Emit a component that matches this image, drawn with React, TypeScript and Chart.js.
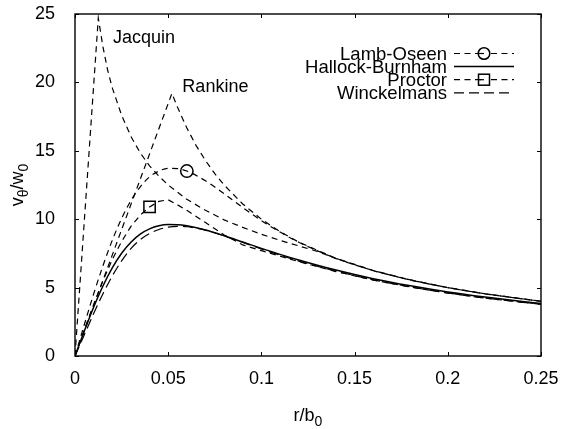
import React, { useEffect, useRef } from 'react';
import { Chart, registerables } from 'chart.js';

Chart.register(...registerables);

const FONT = "'Liberation Sans', Arial, Helvetica, sans-serif";

// ---- axis ticks ----
const xTicks = [0, 0.05, 0.1, 0.15, 0.2, 0.25];
const yTicks = [0, 5, 10, 15, 20, 25];

// ---- series (r/b0, v_theta/w0) ----
const rGrid = [0, 0.005, 0.01, 0.015, 0.02, 0.025, 0.03, 0.035, 0.04, 0.045, 0.05, 0.055, 0.06, 0.07, 0.08, 0.09, 0.1, 0.11, 0.12, 0.14, 0.16, 0.18, 0.2, 0.22, 0.25];
const lambOseen = [0, 2.3, 4.53, 6.6, 8.46, 10.05, 11.36, 12.37, 13.09, 13.52, 13.72, 13.7, 13.52, 12.81, 11.86, 10.85, 9.9, 9.06, 8.32, 7.14, 6.25, 5.56, 5.0, 4.55, 4.0];
const hallockBurnham = [0, 1.83, 3.57, 5.12, 6.44, 7.51, 8.32, 8.91, 9.29, 9.52, 9.61, 9.6, 9.52, 9.21, 8.79, 8.33, 7.87, 7.43, 7.02, 6.28, 5.65, 5.13, 4.68, 4.31, 3.83];
const winckelmans = [0, 1.55, 3.1, 4.55, 5.85, 6.95, 7.85, 8.5, 8.95, 9.25, 9.42, 9.48, 9.45, 9.2, 8.78, 8.3, 7.82, 7.37, 6.94, 6.2, 5.57, 5.05, 4.61, 4.24, 3.78];

const proctorR = [0, 0.005, 0.01, 0.015, 0.02, 0.025, 0.03, 0.035, 0.04, 0.045, 0.05, 0.055, 0.06, 0.065, 0.07, 0.08, 0.09, 0.1, 0.11, 0.12, 0.14, 0.16, 0.18, 0.2, 0.22, 0.25];
const proctor = [0, 1.92, 3.77, 5.5, 7.05, 8.37, 9.47, 10.3, 10.9, 11.3, 11.42, 11.05, 10.65, 10.2, 9.75, 8.85, 8.12, 7.7, 7.3, 6.9, 6.17, 5.55, 5.04, 4.6, 4.23, 3.78];

const jacquinR = [0, 0.0125, 0.015, 0.0175, 0.02, 0.025, 0.03, 0.035, 0.04, 0.045, 0.05, 0.06, 0.07, 0.08, 0.09, 0.1, 0.11, 0.12, 0.13, 0.14, 0.16, 0.18, 0.2, 0.22, 0.25];
const jacquin = [0, 24.7, 22.6, 20.9, 19.6, 17.6, 16.05, 14.85, 13.9, 13.15, 12.5, 11.45, 10.65, 9.95, 9.4, 8.9, 8.45, 8.05, 7.65, 7.12, 6.23, 5.54, 4.99, 4.54, 3.99];

const rankineR = [0, 0.052, 0.055, 0.06, 0.065, 0.07, 0.075, 0.08, 0.09, 0.1, 0.11, 0.12, 0.14, 0.16, 0.18, 0.2, 0.22, 0.25];
const rankine = [0, 19.2, 18.18, 16.67, 15.38, 14.29, 13.33, 12.5, 11.11, 10.0, 9.09, 8.33, 7.14, 6.25, 5.56, 5.0, 4.55, 4.0];

const lambMarkerR = 0.06;
const proctorMarkerR = 0.04;

const legendNames = ['Lamb-Oseen', 'Hallock-Burnham', 'Proctor', 'Winckelmans'];
const curveLabels = [
  { text: 'Jacquin', r: 0.0204, v: 22.87 },
  { text: 'Rankine', r: 0.0576, v: 19.33 },
];

const SHORT = [6, 4.5];
const LONG = [10, 5];

const pts = (xs: number[], ys: number[]) => xs.map((x, i) => ({ x, y: ys[i] }));

function drawRich(ctx: CanvasRenderingContext2D, parts: { t: string; s: number; dy: number }[], cx: number, cy: number, rotate: boolean) {
  ctx.save();
  ctx.translate(cx, cy);
  if (rotate) ctx.rotate(-Math.PI / 2);
  let total = 0;
  const widths = parts.map((p) => {
    ctx.font = `${p.s}px ${FONT}`;
    const w = ctx.measureText(p.t).width;
    total += w;
    return w;
  });
  let x = -total / 2;
  ctx.textAlign = 'left';
  ctx.textBaseline = 'alphabetic';
  ctx.fillStyle = '#000';
  parts.forEach((p, i) => {
    ctx.font = `${p.s}px ${FONT}`;
    ctx.fillText(p.t, x, p.dy);
    x += widths[i];
  });
  ctx.restore();
}

const decorPlugin = {
  id: 'decor',
  afterDraw(chart: any) {
    const { ctx, chartArea: a, scales } = chart;
    const xs = scales.x;
    const ys = scales.y;
    ctx.save();
    ctx.setLineDash([]);
    ctx.strokeStyle = '#000';
    // inward ticks on all four sides
    ctx.lineWidth = 1;
    const tl = 4;
    ctx.beginPath();
    xTicks.forEach((v) => {
      const px = Math.round(xs.getPixelForValue(v)) + 0.5;
      ctx.moveTo(px, a.bottom);
      ctx.lineTo(px, a.bottom - tl);
      ctx.moveTo(px, a.top);
      ctx.lineTo(px, a.top + tl);
    });
    yTicks.forEach((v) => {
      const py = Math.round(ys.getPixelForValue(v)) + 0.5;
      ctx.moveTo(a.left, py);
      ctx.lineTo(a.left + tl, py);
      ctx.moveTo(a.right, py);
      ctx.lineTo(a.right - tl, py);
    });
    ctx.stroke();
    // frame
    ctx.lineWidth = 1.4;
    ctx.strokeRect(a.left, a.top, a.right - a.left, a.bottom - a.top);

    // curve labels
    ctx.fillStyle = '#000';
    ctx.font = `18px ${FONT}`;
    ctx.textAlign = 'left';
    ctx.textBaseline = 'alphabetic';
    curveLabels.forEach((l) => {
      ctx.fillText(l.text, xs.getPixelForValue(l.r), ys.getPixelForValue(l.v));
    });

    // legend
    const textRight = a.right - 94;
    const sx0 = a.right - 87;
    const sx1 = a.right - 27;
    const smid = (sx0 + sx1) / 2;
    const base0 = a.top + 46;
    const step = 13.1;
    ctx.textAlign = 'right';
    legendNames.forEach((name, i) => {
      const by = base0 + i * step;
      ctx.fillStyle = '#000';
      ctx.font = `18.5px ${FONT}`;
      ctx.fillText(name, textRight, by);
      const ly = by - 6.5;
      ctx.beginPath();
      ctx.lineWidth = i === 1 ? 1.5 : 1.2;
      ctx.setLineDash(i === 1 ? [] : i === 3 ? LONG : SHORT);
      if (i === 0 || i === 2) {
        ctx.moveTo(sx0, ly);
        ctx.lineTo(smid - 3, ly);
        ctx.moveTo(smid + 7, ly);
        ctx.lineTo(sx1, ly);
      } else {
        ctx.moveTo(sx0, ly);
        ctx.lineTo(sx1, ly);
      }
      ctx.stroke();
      ctx.setLineDash([]);
      ctx.lineWidth = 1.5;
      if (i === 0) {
        ctx.beginPath();
        ctx.arc(smid, ly, 5.8, 0, Math.PI * 2);
        ctx.stroke();
        ctx.beginPath();
        ctx.moveTo(smid - 5.8, ly);
        ctx.lineTo(smid, ly);
        ctx.lineWidth = 1.2;
        ctx.stroke();
      } else if (i === 2) {
        ctx.strokeRect(smid - 5.5, ly - 5.5, 11, 11);
        ctx.beginPath();
        ctx.lineWidth = 1.2;
        ctx.moveTo(smid - 5.5, ly);
        ctx.lineTo(smid, ly);
        ctx.stroke();
      }
    });

    // axis titles with subscripts
    drawRich(ctx, [
      { t: 'r/b', s: 18, dy: 0 },
      { t: '0', s: 14, dy: 5 },
    ], (a.left + a.right) / 2, 421, false);
    drawRich(ctx, [
      { t: 'v', s: 18, dy: 0 },
      { t: 'θ', s: 14, dy: 5 },
      { t: '/w', s: 18, dy: 0 },
      { t: '0', s: 14, dy: 5 },
    ], 23, (a.top + a.bottom) / 2, true);
    ctx.restore();
  },
};

export default function App() {
  const ref = useRef<HTMLCanvasElement | null>(null);
  useEffect(() => {
    if (!ref.current) return;
    const markerRadius = (mr: number, r: number) => (c: any) => (c.raw && c.raw.x === mr ? r : 0);
    const base = {
      showLine: true,
      borderColor: '#000',
      backgroundColor: 'rgba(0,0,0,0)',
      pointRadius: 0,
      pointHoverRadius: 0,
      fill: false,
      tension: 0,
    };
    const chart = new Chart(ref.current, {
      type: 'scatter',
      data: {
        datasets: [
          { ...base, label: 'Jacquin', data: pts(jacquinR, jacquin), borderWidth: 1.2, borderDash: SHORT },
          { ...base, label: 'Rankine', data: pts(rankineR, rankine), borderWidth: 1.2, borderDash: SHORT },
          {
            ...base, label: 'Lamb-Oseen', data: pts(rGrid, lambOseen), borderWidth: 1.2, borderDash: SHORT,
            cubicInterpolationMode: 'monotone',
            pointRadius: markerRadius(lambMarkerR, 6.2), pointStyle: 'circle', pointBorderColor: '#000', pointBorderWidth: 1.5,
            pointBackgroundColor: 'rgba(0,0,0,0)',
          },
          { ...base, label: 'Hallock-Burnham', data: pts(rGrid, hallockBurnham), borderWidth: 1.5, cubicInterpolationMode: 'monotone' },
          {
            ...base, label: 'Proctor', data: pts(proctorR, proctor), borderWidth: 1.2, borderDash: SHORT,
            pointRadius: markerRadius(proctorMarkerR, 8), pointStyle: 'rect', pointBorderColor: '#000', pointBorderWidth: 1.5,
            pointBackgroundColor: 'rgba(0,0,0,0)',
          },
          { ...base, label: 'Winckelmans', data: pts(rGrid, winckelmans), borderWidth: 1.2, borderDash: LONG, cubicInterpolationMode: 'monotone' },
        ] as any,
      },
      options: {
        animation: false,
        responsive: true,
        maintainAspectRatio: false,
        events: [],
        layout: { padding: { left: 0, right: 20, top: 14, bottom: 0 } },
        plugins: { legend: { display: false }, tooltip: { enabled: false }, title: { display: false } },
        scales: {
          x: {
            type: 'linear',
            min: 0,
            max: 0.25,
            grid: { display: false },
            border: { display: false },
            afterBuildTicks: (s: any) => { s.ticks = xTicks.map((v) => ({ value: v })); },
            afterFit: (s: any) => {
              s.height = 73;
              s.paddingLeft = 0; s.paddingRight = 0; s.paddingTop = 0; s.paddingBottom = 0;
            },
            ticks: {
              color: '#000',
              font: { family: FONT, size: 18 },
              padding: 4,
              maxRotation: 0,
              callback: (v: any) => String(Number(Number(v).toFixed(2))),
            },
          },
          y: {
            type: 'linear',
            min: 0,
            max: 25,
            grid: { display: false },
            border: { display: false },
            afterBuildTicks: (s: any) => { s.ticks = yTicks.map((v) => ({ value: v })); },
            afterFit: (s: any) => {
              s.width = 75;
              s.paddingLeft = 0; s.paddingRight = 0; s.paddingTop = 0; s.paddingBottom = 0;
            },
            ticks: {
              color: '#000',
              font: { family: FONT, size: 18 },
              padding: 12,
              callback: (v: any) => String(v),
            },
          },
        },
      } as any,
      plugins: [decorPlugin],
    });
    return () => chart.destroy();
  }, []);
  return (
    <div style={{ position: 'fixed', left: 0, top: 0, width: 561, height: 429, background: '#fff' }}>
      <canvas ref={ref} />
    </div>
  );
}
